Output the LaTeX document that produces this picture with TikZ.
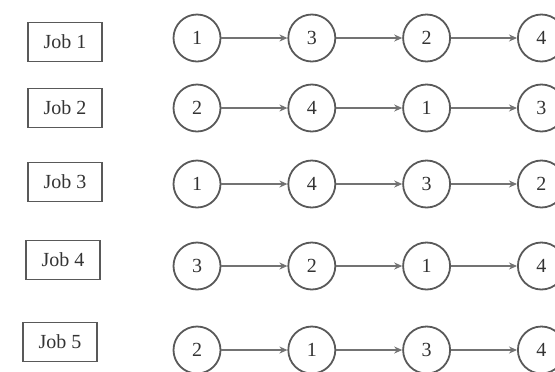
\documentclass[tikz,border=0pt]{standalone}
\usepackage{fontspec}
\setmainfont{Liberation Serif}
\usetikzlibrary{arrows.meta,positioning}
\tikzset{main base/.style={draw,thick,text centered, }, }
\tikzset{job node/.style={rectangle,main base,draw=black!65,line width=0.9pt,
    minimum width=37pt,minimum height=19.5pt,inner sep=0pt,text=black!80}, }
\tikzset{op node/.style={circle,main base,draw=black!65,line width=0.9pt,
    minimum size=23.5pt,inner sep=0pt,text=black!80}, }
\tikzset{linea/.style={-{Stealth[length=4pt,width=3.5pt]},draw=black!55,line width=0.6pt}}

\begin{document}
\begin{tikzpicture}[x=0.5pt,y=-0.5pt,node distance=33pt,font=\fontsize{10}{12}\selectfont]
\useasboundingbox (0,0) rectangle (555,371);
%
    \node[job node] (j1) at (65,42)  {Job 1};
    \node[job node] (j2) at (65,108) {Job 2};
    \node[job node] (j3) at (65,182) {Job 3};
    \node[job node] (j4) at (63,260) {Job 4};
    \node[job node] (j5) at (60,342) {Job 5};
%
    \node[op node] (11) at (197,38) {1};
    \node[op node] (12) [right=of 11] {3};
    \node[op node] (13) [right=of 12] {2};
    \node[op node] (14) [right=of 13] {4};
%
    \node[op node] (21) at (197,108) {2};
    \node[op node] (22) [right=of 21] {4};
    \node[op node] (23) [right=of 22] {1};
    \node[op node] (24) [right=of 23] {3};
%
    \node[op node] (31) at (197,184) {1};
    \node[op node] (32) [right=of 31] {4};
    \node[op node] (33) [right=of 32] {3};
    \node[op node] (34) [right=of 33] {2};
%
    \node[op node] (41) at (197,266) {3};
    \node[op node] (42) [right=of 41] {2};
    \node[op node] (43) [right=of 42] {1};
    \node[op node] (44) [right=of 43] {4};
%
    \node[op node] (51) at (197,350) {2};
    \node[op node] (52) [right=of 51] {1};
    \node[op node] (53) [right=of 52] {3};
    \node[op node] (54) [right=of 53] {4};

\foreach \r in {1,...,5}
  \foreach \x/\y in {1/2,2/3,3/4}
    \path[linea] (\r\x) edge node {} (\r\y);
%
\end{tikzpicture}
\end{document}
